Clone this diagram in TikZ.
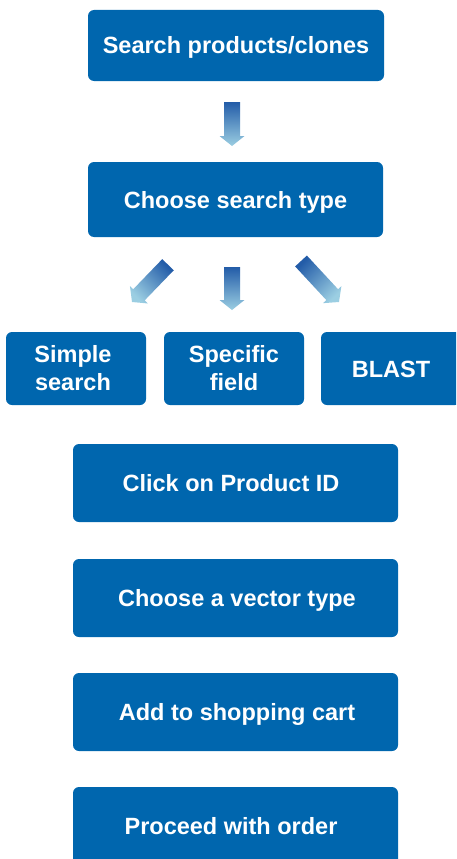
\documentclass[tikz,border=0pt]{standalone}
\usepackage{fontspec}
\setmainfont{Liberation Sans}
\usetikzlibrary{calc}
\definecolor{boxblue}{RGB}{0,102,174}
\definecolor{adark}{RGB}{35,92,168}
\definecolor{amid}{RGB}{200,232,240}
\definecolor{alight}{RGB}{155,206,226}
\tikzset{
  box/.style={fill=boxblue, rounded corners=6pt, text=white, font=\fontsize{23.5}{28}\selectfont\bfseries, inner sep=0pt, align=center},
  oneline/.style={text height=17pt, text depth=0pt},
  fatarrow/.style={top color=adark, middle color=amid, bottom color=alight, draw=none}
}
\newcommand\fatarr[3]{%
  \shade[fatarrow, shading angle=#3]
    ($(#1)!8pt!90:(#2)$) -- ($($(#2)!10pt!(#1)$)!8pt!-90:(#1)$) --
    ($($(#2)!10pt!(#1)$)!12.5pt!-90:(#1)$) -- (#2) --
    ($($(#2)!10pt!(#1)$)!12.5pt!90:(#1)$) --
    ($($(#2)!10pt!(#1)$)!8pt!90:(#1)$) -- ($(#1)!8pt!-90:(#2)$) -- cycle;}
\begin{document}
\begin{tikzpicture}[x=1pt,y=1pt]
\useasboundingbox (0,0) rectangle (456,-859);
\clip (0,0) rectangle (456,-859);
\node[box, oneline, minimum width=296pt, minimum height=71pt] (b1) at (236,-45.5) {Search products/clones};
\node[box, oneline, minimum width=295pt, minimum height=75pt] (b2) at (235.5,-199.5) {Choose search type};
\node[box, minimum width=140pt, minimum height=73pt] (s1) at (76,-368.5) {\hspace*{-6pt}Simple\\\hspace*{-6pt}search};
\node[box, minimum width=140pt, minimum height=73pt] (s2) at (234,-368.5) {Specific\\field};
\node[box, oneline, minimum width=140pt, minimum height=73pt] (s3) at (391,-368.5) {BLAST};
\node[box, oneline, minimum width=325pt, minimum height=78pt] (c1) at (235.5,-483) {\hspace*{-9pt}Click on Product ID};
\node[box, oneline, minimum width=325pt, minimum height=78pt] (c2) at (235.5,-598) {\hspace*{3pt}Choose a vector type};
\node[box, oneline, minimum width=325pt, minimum height=78pt] (c3) at (235.5,-712) {\hspace*{3pt}Add to shopping cart};
\node[box, oneline, minimum width=325pt, minimum height=78pt] (c4) at (235.5,-826) {\hspace*{-9pt}Proceed with order};
% arrow end points
\coordinate (t1) at (232,-102);
\coordinate (p1) at (232,-146);
\coordinate (tL) at (168,-264.7);
\coordinate (pL) at (132,-302);
\coordinate (tM) at (232,-267);
\coordinate (pM) at (232,-310);
\coordinate (tR) at (301,-261);
\coordinate (pR) at (339,-302);
\fatarr{t1}{p1}{0}
\fatarr{tL}{pL}{-45}
\fatarr{tM}{pM}{0}
\fatarr{tR}{pR}{45}
\end{tikzpicture}
\end{document}
